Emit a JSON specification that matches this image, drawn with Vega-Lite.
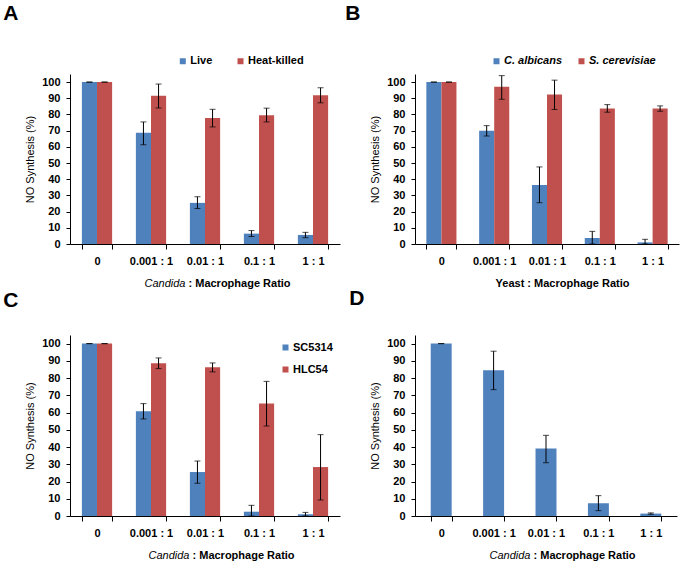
{
  "$schema": "https://vega.github.io/schema/vega-lite/v6.json",
  "padding": {"left": 3, "top": 3, "right": 2, "bottom": 2},
  "background": "white",
  "config": {
    "font": "Liberation Sans",
    "view": {"stroke": null},
    "axis": {"domainColor": "#000", "tickColor": "#000", "labelColor": "#000", "titleColor": "#000", "grid": false, "labelFontSize": 11, "labelFontWeight": "bold", "titleFontSize": 11, "domainWidth": 1, "tickWidth": 1},
    "axisX": {"tickBand": "extent", "tickSize": 5, "labelAngle": 0, "labelPadding": 6, "titleBaseline": "alphabetic", "titleY": 42.5, "titleFontWeight": "bold"},
    "axisY": {"tickSize": 4, "labelPadding": 6, "labelOverlap": false, "titleFontWeight": "normal", "titleX": -40, "titleBaseline": "middle"},
    "legend": {"title": null, "symbolType": "square", "symbolSize": 36, "symbolStrokeWidth": 0, "labelFontSize": 11, "labelFontWeight": "bold", "labelColor": "#000", "labelOffset": 2, "padding": 0, "orient": "none"},
    "title": {"anchor": "start", "frame": "group", "fontSize": 21, "fontWeight": "bold", "color": "#000", "baseline": "alphabetic"},
    "tick": {"thickness": 1, "color": "#000", "size": 6},
    "rule": {"color": "#000", "strokeWidth": 1}
  },
  "datasets": {
    "d": [
      {"panel": "A", "ratio": "0", "series": "Live", "value": 100, "lo": 100, "hi": 100},
      {"panel": "A", "ratio": "0.001 : 1", "series": "Live", "value": 68.7, "lo": 61.3, "hi": 75.4},
      {"panel": "A", "ratio": "0.01 : 1", "series": "Live", "value": 25.4, "lo": 21.9, "hi": 29.2},
      {"panel": "A", "ratio": "0.1 : 1", "series": "Live", "value": 6.4, "lo": 4.6, "hi": 8.3},
      {"panel": "A", "ratio": "1 : 1", "series": "Live", "value": 5.6, "lo": 3.9, "hi": 7.2},
      {"panel": "A", "ratio": "0", "series": "Heat-killed", "value": 100, "lo": 100, "hi": 100},
      {"panel": "A", "ratio": "0.001 : 1", "series": "Heat-killed", "value": 91.5, "lo": 84, "hi": 98.8},
      {"panel": "A", "ratio": "0.01 : 1", "series": "Heat-killed", "value": 77.8, "lo": 72.3, "hi": 83.2},
      {"panel": "A", "ratio": "0.1 : 1", "series": "Heat-killed", "value": 79.5, "lo": 75.4, "hi": 83.9},
      {"panel": "A", "ratio": "1 : 1", "series": "Heat-killed", "value": 91.9, "lo": 87.2, "hi": 96.5},
      {"panel": "B", "ratio": "0", "series": "C. albicans", "value": 100, "lo": 100, "hi": 100},
      {"panel": "B", "ratio": "0.001 : 1", "series": "C. albicans", "value": 70, "lo": 66.7, "hi": 73.1},
      {"panel": "B", "ratio": "0.01 : 1", "series": "C. albicans", "value": 36.5, "lo": 25.5, "hi": 47.6},
      {"panel": "B", "ratio": "0.1 : 1", "series": "C. albicans", "value": 3.7, "lo": 0, "hi": 7.8},
      {"panel": "B", "ratio": "1 : 1", "series": "C. albicans", "value": 1.0, "lo": 0, "hi": 2.9},
      {"panel": "B", "ratio": "0", "series": "S. cerevisiae", "value": 100, "lo": 100, "hi": 100},
      {"panel": "B", "ratio": "0.001 : 1", "series": "S. cerevisiae", "value": 97.1, "lo": 89.4, "hi": 104},
      {"panel": "B", "ratio": "0.01 : 1", "series": "S. cerevisiae", "value": 92.4, "lo": 83.1, "hi": 101.2},
      {"panel": "B", "ratio": "0.1 : 1", "series": "S. cerevisiae", "value": 83.7, "lo": 81.4, "hi": 86.1},
      {"panel": "B", "ratio": "1 : 1", "series": "S. cerevisiae", "value": 83.7, "lo": 82, "hi": 85.3},
      {"panel": "C", "ratio": "0", "series": "SC5314", "value": 100, "lo": 100, "hi": 100},
      {"panel": "C", "ratio": "0.001 : 1", "series": "SC5314", "value": 60.7, "lo": 56.3, "hi": 65.2},
      {"panel": "C", "ratio": "0.01 : 1", "series": "SC5314", "value": 25.5, "lo": 19, "hi": 31.9},
      {"panel": "C", "ratio": "0.1 : 1", "series": "SC5314", "value": 2.5, "lo": 0, "hi": 6.2},
      {"panel": "C", "ratio": "1 : 1", "series": "SC5314", "value": 1.0, "lo": 0, "hi": 2.1},
      {"panel": "C", "ratio": "0", "series": "HLC54", "value": 100, "lo": 100, "hi": 100},
      {"panel": "C", "ratio": "0.001 : 1", "series": "HLC54", "value": 88.6, "lo": 85.5, "hi": 91.7},
      {"panel": "C", "ratio": "0.01 : 1", "series": "HLC54", "value": 86.3, "lo": 83.6, "hi": 88.8},
      {"panel": "C", "ratio": "0.1 : 1", "series": "HLC54", "value": 65.2, "lo": 52.2, "hi": 78.1},
      {"panel": "C", "ratio": "1 : 1", "series": "HLC54", "value": 28.4, "lo": 9.3, "hi": 47.2},
      {"panel": "D", "ratio": "0", "series": "SC5314", "value": 100, "lo": 100, "hi": 100},
      {"panel": "D", "ratio": "0.001 : 1", "series": "SC5314", "value": 84.5, "lo": 73.3, "hi": 95.6},
      {"panel": "D", "ratio": "0.01 : 1", "series": "SC5314", "value": 39.1, "lo": 30.9, "hi": 46.8},
      {"panel": "D", "ratio": "0.1 : 1", "series": "SC5314", "value": 7.4, "lo": 3.1, "hi": 11.8},
      {"panel": "D", "ratio": "1 : 1", "series": "SC5314", "value": 1.4, "lo": 1.0, "hi": 1.8}
    ]
  },
  "columns": 2,
  "spacing": {"row": 91, "column": 75},
  "bounds": "flush",
  "resolve": {
    "scale": {"x": "independent", "y": "independent", "xOffset": "independent", "color": "independent"},
    "legend": {"color": "independent"},
    "axis": {"x": "independent", "y": "independent"}
  },
  "concat": [
    {
      "title": {"text": "A", "dx": -66.7, "offset": 31.5},
      "width": 270, "height": 170,
      "data": {"name": "d"},
      "transform": [{"filter": "datum.panel === 'A'"}],
      "layer": [
        {
          "mark": "bar",
          "encoding": {
            "x": {"field": "ratio", "type": "nominal", "sort": ["0", "0.001 : 1", "0.01 : 1", "0.1 : 1", "1 : 1"], "scale": {"paddingInner": 0.44, "paddingOuter": 0.22}, "axis": {"title": "Candida", "titleFontStyle": "italic", "titleFontWeight": "normal", "titleAlign": "right", "titleX": 115, "orient": "bottom"}},
            "xOffset": {"field": "series", "type": "nominal", "sort": ["Live", "Heat-killed"], "scale": {"paddingInner": 0, "paddingOuter": 0}},
            "y": {"field": "value", "type": "quantitative", "title": "NO Synthesis (%)", "scale": {"domain": [0, 105], "nice": false}, "axis": {"values": [0, 10, 20, 30, 40, 50, 60, 70, 80, 90, 100]}},
            "color": {"field": "series", "type": "nominal", "scale": {"domain": ["Live", "Heat-killed"], "range": ["#4F81BD", "#C0504D"]}, "legend": {"direction": "horizontal", "legendX": 107.3, "legendY": -18.5, "columnPadding": 21.7}}
          }
        },
        {
          "mark": "rule",
          "encoding": {
            "x": {"field": "ratio", "type": "nominal", "sort": ["0", "0.001 : 1", "0.01 : 1", "0.1 : 1", "1 : 1"], "axis": {"title": ": Macrophage Ratio", "labels": false, "ticks": false, "domain": false, "titleAlign": "left", "titleX": 118, "orient": "bottom"}},
            "xOffset": {"field": "series", "type": "nominal", "sort": ["Live", "Heat-killed"]},
            "y": {"field": "lo", "type": "quantitative", "title": "NO Synthesis (%)", "scale": {"domain": [0, 105], "nice": false}, "axis": {"values": [0, 10, 20, 30, 40, 50, 60, 70, 80, 90, 100]}},
            "y2": {"field": "hi"}
          }
        },
        {
          "mark": "tick",
          "encoding": {
            "x": {"field": "ratio", "type": "nominal", "sort": ["0", "0.001 : 1", "0.01 : 1", "0.1 : 1", "1 : 1"], "axis": null},
            "xOffset": {"field": "series", "type": "nominal", "sort": ["Live", "Heat-killed"]},
            "y": {"field": "hi", "type": "quantitative", "title": "NO Synthesis (%)", "scale": {"domain": [0, 105], "nice": false}, "axis": {"values": [0, 10, 20, 30, 40, 50, 60, 70, 80, 90, 100]}}
          }
        },
        {
          "mark": "tick",
          "encoding": {
            "x": {"field": "ratio", "type": "nominal", "sort": ["0", "0.001 : 1", "0.01 : 1", "0.1 : 1", "1 : 1"], "axis": null},
            "xOffset": {"field": "series", "type": "nominal", "sort": ["Live", "Heat-killed"]},
            "y": {"field": "lo", "type": "quantitative", "title": "NO Synthesis (%)", "scale": {"domain": [0, 105], "nice": false}, "axis": {"values": [0, 10, 20, 30, 40, 50, 60, 70, 80, 90, 100]}}
          }
        }
      ],
      "resolve": {"axis": {"x": "independent"}}
    },
    {
      "title": {"text": "B", "dx": -69.7, "offset": 31.5},
      "width": 264, "height": 170,
      "data": {"name": "d"},
      "transform": [{"filter": "datum.panel === 'B'"}],
      "layer": [
        {
          "mark": "bar",
          "encoding": {
            "x": {"field": "ratio", "type": "nominal", "sort": ["0", "0.001 : 1", "0.01 : 1", "0.1 : 1", "1 : 1"], "scale": {"paddingInner": 0.43, "paddingOuter": 0.215}, "axis": {"title": "Yeast : Macrophage Ratio", "titleAlign": "center", "titleX": 147}},
            "xOffset": {"field": "series", "type": "nominal", "sort": ["C. albicans", "S. cerevisiae"], "scale": {"paddingInner": 0, "paddingOuter": 0}},
            "y": {"field": "value", "type": "quantitative", "title": "NO Synthesis (%)", "scale": {"domain": [0, 105], "nice": false}, "axis": {"values": [0, 10, 20, 30, 40, 50, 60, 70, 80, 90, 100]}},
            "color": {"field": "series", "type": "nominal", "scale": {"domain": ["C. albicans", "S. cerevisiae"], "range": ["#4F81BD", "#C0504D"]}, "legend": {"direction": "horizontal", "legendX": 76, "legendY": -18.5, "columnPadding": 13, "labelFontStyle": "italic"}}
          }
        },
        {
          "mark": "rule",
          "encoding": {
            "x": {"field": "ratio", "type": "nominal", "sort": ["0", "0.001 : 1", "0.01 : 1", "0.1 : 1", "1 : 1"]},
            "xOffset": {"field": "series", "type": "nominal", "sort": ["C. albicans", "S. cerevisiae"]},
            "y": {"field": "lo", "type": "quantitative", "title": "NO Synthesis (%)", "scale": {"domain": [0, 105], "nice": false}, "axis": {"values": [0, 10, 20, 30, 40, 50, 60, 70, 80, 90, 100]}},
            "y2": {"field": "hi"}
          }
        },
        {
          "mark": "tick",
          "encoding": {
            "x": {"field": "ratio", "type": "nominal", "sort": ["0", "0.001 : 1", "0.01 : 1", "0.1 : 1", "1 : 1"]},
            "xOffset": {"field": "series", "type": "nominal", "sort": ["C. albicans", "S. cerevisiae"]},
            "y": {"field": "hi", "type": "quantitative", "title": "NO Synthesis (%)", "scale": {"domain": [0, 105], "nice": false}, "axis": {"values": [0, 10, 20, 30, 40, 50, 60, 70, 80, 90, 100]}}
          }
        },
        {
          "mark": "tick",
          "encoding": {
            "x": {"field": "ratio", "type": "nominal", "sort": ["0", "0.001 : 1", "0.01 : 1", "0.1 : 1", "1 : 1"]},
            "xOffset": {"field": "series", "type": "nominal", "sort": ["C. albicans", "S. cerevisiae"]},
            "y": {"field": "lo", "type": "quantitative", "title": "NO Synthesis (%)", "scale": {"domain": [0, 105], "nice": false}, "axis": {"values": [0, 10, 20, 30, 40, 50, 60, 70, 80, 90, 100]}}
          }
        }
      ]
    },
    {
      "title": {"text": "C", "dx": -66.7, "offset": 24.3},
      "width": 270, "height": 181,
      "data": {"name": "d"},
      "transform": [{"filter": "datum.panel === 'C'"}],
      "layer": [
        {
          "mark": "bar",
          "encoding": {
            "x": {"field": "ratio", "type": "nominal", "sort": ["0", "0.001 : 1", "0.01 : 1", "0.1 : 1", "1 : 1"], "scale": {"paddingInner": 0.44, "paddingOuter": 0.22}, "axis": {"title": "Candida", "titleFontStyle": "italic", "titleFontWeight": "normal", "titleAlign": "right", "titleX": 119, "orient": "bottom"}},
            "xOffset": {"field": "series", "type": "nominal", "sort": ["SC5314", "HLC54"], "scale": {"paddingInner": 0, "paddingOuter": 0}},
            "y": {"field": "value", "type": "quantitative", "title": "NO Synthesis (%)", "scale": {"domain": [0, 105], "nice": false}, "axis": {"values": [0, 10, 20, 30, 40, 50, 60, 70, 80, 90, 100]}},
            "color": {"field": "series", "type": "nominal", "scale": {"domain": ["SC5314", "HLC54"], "range": ["#4F81BD", "#C0504D"]}, "legend": {"direction": "vertical", "legendX": 210, "legendY": 7, "rowPadding": 10}}
          }
        },
        {
          "mark": "rule",
          "encoding": {
            "x": {"field": "ratio", "type": "nominal", "sort": ["0", "0.001 : 1", "0.01 : 1", "0.1 : 1", "1 : 1"], "axis": {"title": ": Macrophage Ratio", "labels": false, "ticks": false, "domain": false, "titleAlign": "left", "titleX": 122, "orient": "bottom"}},
            "xOffset": {"field": "series", "type": "nominal", "sort": ["SC5314", "HLC54"]},
            "y": {"field": "lo", "type": "quantitative", "title": "NO Synthesis (%)", "scale": {"domain": [0, 105], "nice": false}, "axis": {"values": [0, 10, 20, 30, 40, 50, 60, 70, 80, 90, 100]}},
            "y2": {"field": "hi"}
          }
        },
        {
          "mark": "tick",
          "encoding": {
            "x": {"field": "ratio", "type": "nominal", "sort": ["0", "0.001 : 1", "0.01 : 1", "0.1 : 1", "1 : 1"], "axis": null},
            "xOffset": {"field": "series", "type": "nominal", "sort": ["SC5314", "HLC54"]},
            "y": {"field": "hi", "type": "quantitative", "title": "NO Synthesis (%)", "scale": {"domain": [0, 105], "nice": false}, "axis": {"values": [0, 10, 20, 30, 40, 50, 60, 70, 80, 90, 100]}}
          }
        },
        {
          "mark": "tick",
          "encoding": {
            "x": {"field": "ratio", "type": "nominal", "sort": ["0", "0.001 : 1", "0.01 : 1", "0.1 : 1", "1 : 1"], "axis": null},
            "xOffset": {"field": "series", "type": "nominal", "sort": ["SC5314", "HLC54"]},
            "y": {"field": "lo", "type": "quantitative", "title": "NO Synthesis (%)", "scale": {"domain": [0, 105], "nice": false}, "axis": {"values": [0, 10, 20, 30, 40, 50, 60, 70, 80, 90, 100]}}
          }
        }
      ],
      "resolve": {"axis": {"x": "independent"}}
    },
    {
      "title": {"text": "D", "dx": -65.7, "offset": 26},
      "width": 262, "height": 181,
      "data": {"name": "d"},
      "transform": [{"filter": "datum.panel === 'D'"}],
      "layer": [
        {
          "mark": {"type": "bar", "color": "#4F81BD"},
          "encoding": {
            "x": {"field": "ratio", "type": "nominal", "sort": ["0", "0.001 : 1", "0.01 : 1", "0.1 : 1", "1 : 1"], "scale": {"paddingInner": 0.6, "paddingOuter": 0.3}, "axis": {"title": "Candida", "titleFontStyle": "italic", "titleFontWeight": "normal", "titleAlign": "right", "titleX": 115, "orient": "bottom"}},
            "y": {"field": "value", "type": "quantitative", "title": "NO Synthesis (%)", "scale": {"domain": [0, 105], "nice": false}, "axis": {"values": [0, 10, 20, 30, 40, 50, 60, 70, 80, 90, 100]}}
          }
        },
        {
          "mark": "rule",
          "encoding": {
            "x": {"field": "ratio", "type": "nominal", "sort": ["0", "0.001 : 1", "0.01 : 1", "0.1 : 1", "1 : 1"], "axis": {"title": ": Macrophage Ratio", "labels": false, "ticks": false, "domain": false, "titleAlign": "left", "titleX": 118, "orient": "bottom"}},
            "y": {"field": "lo", "type": "quantitative", "title": "NO Synthesis (%)", "scale": {"domain": [0, 105], "nice": false}, "axis": {"values": [0, 10, 20, 30, 40, 50, 60, 70, 80, 90, 100]}},
            "y2": {"field": "hi"}
          }
        },
        {
          "mark": "tick",
          "encoding": {
            "x": {"field": "ratio", "type": "nominal", "sort": ["0", "0.001 : 1", "0.01 : 1", "0.1 : 1", "1 : 1"], "axis": null},
            "y": {"field": "hi", "type": "quantitative", "title": "NO Synthesis (%)", "scale": {"domain": [0, 105], "nice": false}, "axis": {"values": [0, 10, 20, 30, 40, 50, 60, 70, 80, 90, 100]}}
          }
        },
        {
          "mark": "tick",
          "encoding": {
            "x": {"field": "ratio", "type": "nominal", "sort": ["0", "0.001 : 1", "0.01 : 1", "0.1 : 1", "1 : 1"], "axis": null},
            "y": {"field": "lo", "type": "quantitative", "title": "NO Synthesis (%)", "scale": {"domain": [0, 105], "nice": false}, "axis": {"values": [0, 10, 20, 30, 40, 50, 60, 70, 80, 90, 100]}}
          }
        }
      ],
      "resolve": {"axis": {"x": "independent"}}
    }
  ]
}
